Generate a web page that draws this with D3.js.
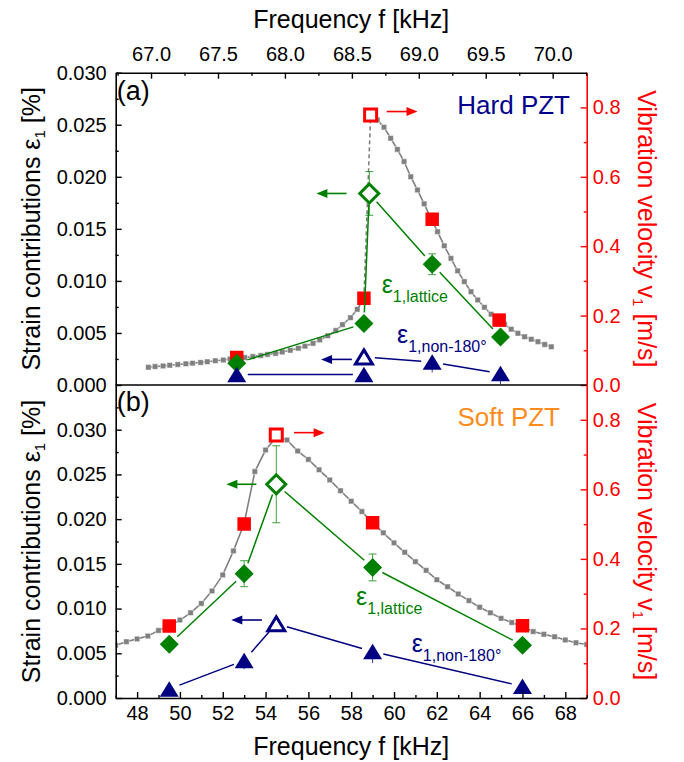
<!DOCTYPE html>
<html>
<head>
<meta charset="utf-8">
<script src="https://cdn.jsdelivr.net/npm/d3@7"></script>
<style>
body { margin: 0; background: #fff; }
svg text { font-family: "Liberation Sans", Arial, sans-serif; }
</style>
</head>
<body>
<script>
//---- data ----

// (a) Hard PZT - velocity sweep (grey), below and above the jump
var hardSweepLowF = [66.98, 67.03, 67.09, 67.14, 67.20, 67.26, 67.31, 67.37, 67.42, 67.48, 67.54, 67.59, 67.65, 67.70, 67.76,
	67.82, 67.87, 67.93, 67.98, 68.04, 68.10, 68.15, 68.21, 68.26, 68.32, 68.38, 68.43, 68.49, 68.54];
var hardSweepLowV = [0.051, 0.053, 0.055, 0.057, 0.059, 0.061, 0.063, 0.065, 0.067, 0.070, 0.072, 0.075, 0.077, 0.079, 0.082,
	0.085, 0.088, 0.091, 0.095, 0.100, 0.106, 0.112, 0.120, 0.130, 0.142, 0.157, 0.174, 0.194, 0.218];
var hardSweepHighF = [68.69, 68.74, 68.79, 68.84, 68.89, 68.94, 68.99, 69.04, 69.09, 69.14, 69.19, 69.24, 69.29, 69.34,
	69.39, 69.44, 69.49, 69.54, 69.59, 69.64, 69.69, 69.74, 69.79, 69.84, 69.89, 69.94, 69.99];
var hardSweepHighV = [0.764, 0.743, 0.711, 0.679, 0.644, 0.600, 0.562, 0.522, 0.481, 0.442, 0.401, 0.365, 0.329, 0.298,
	0.269, 0.245, 0.224, 0.204, 0.187, 0.175, 0.161, 0.149, 0.139, 0.132, 0.125, 0.117, 0.110];

// (a) diffraction points
var hardVelF = [67.64, 68.59, 69.10, 69.60];
var hardVel = [0.079, 0.250, 0.4775, 0.187];
var hardVelOpenF = 68.64, hardVelOpen = 0.778;

var hardLatticeF = [67.64, 68.59, 68.63, 69.10, 69.61];
var hardLattice = [0.0021, 0.0059, 0.0184, 0.0116, 0.0046];
var hardLatticeErr = [0, 0, 0.0021, 0.0010, 0];
var hardLatticeOpen = 2;

var hardDomainF = [67.64, 68.59, 68.59, 69.10, 69.61];
var hardDomain = [0.0010, 0.0010, 0.0027, 0.0022, 0.0011];
var hardDomainErr = [0.0005, 0.0005, 0, 0.0010, 0.0010];
var hardDomainOpen = 2;

// (b) Soft PZT - velocity sweep (grey)
var softSweepF = [47.0, 47.5, 48.0, 48.5, 49.0, 49.5, 50.0, 50.5, 51.0, 51.5, 52.0, 52.5, 53.0, 53.5, 54.0, 54.5, 55.0,
	55.5, 56.0, 56.5, 57.0, 57.5, 58.0, 58.5, 59.0, 59.5, 60.0, 60.5, 61.0, 61.5, 62.0, 62.5, 63.0, 63.5, 64.0, 64.5,
	65.0, 65.5, 66.0, 66.5, 67.0, 67.5, 68.0, 68.5, 69.0];
var softSweepV = [0.152, 0.162, 0.170, 0.178, 0.194, 0.207, 0.224, 0.245, 0.272, 0.308, 0.354, 0.423, 0.502, 0.651, 0.713,
	0.750, 0.742, 0.710, 0.686, 0.656, 0.627, 0.596, 0.566, 0.536, 0.504, 0.475, 0.446, 0.419, 0.392, 0.367, 0.340,
	0.320, 0.299, 0.280, 0.261, 0.245, 0.229, 0.217, 0.205, 0.191, 0.183, 0.176, 0.167, 0.159, 0.154];

var softVelF = [49.5, 53.0, 59.0, 66.0];
var softVel = [0.207, 0.500, 0.504, 0.208];
var softVelOpenF = 54.5, softVelOpen = 0.756;

var softLatticeF = [49.5, 53.0, 54.5, 59.0, 66.0];
var softLattice = [0.0060, 0.0139, 0.0239, 0.0146, 0.0059];
var softLatticeErr = [0, 0.00145, 0.0043, 0.0015, 0];
var softLatticeOpen = 2;

var softDomainF = [49.5, 53.0, 54.5, 59.0, 66.0];
var softDomain = [0.0010, 0.0042, 0.0083, 0.0052, 0.0013];
var softDomainErr = [0, 0.0010, 0, 0.0013, 0];
var softDomainOpen = 2;

// ticks
var strainTicks = [0, 0.005, 0.010, 0.015, 0.020, 0.025, 0.030];
var strainMinor = [0.0025, 0.0075, 0.0125, 0.0175, 0.0225, 0.0275, 0.0325];
var velTicks = [0, 0.2, 0.4, 0.6, 0.8];
var velMinor = [0.1, 0.3, 0.5, 0.7];
var hardFreqTicks = [67.0, 67.5, 68.0, 68.5, 69.0, 69.5, 70.0];
var hardFreqMinor = [66.75, 67.25, 67.75, 68.25, 68.75, 69.25, 69.75, 70.25];
var softFreqTicks = [48, 50, 52, 54, 56, 58, 60, 62, 64, 66, 68];
var softFreqMinor = [47, 49, 51, 53, 55, 57, 59, 61, 63, 65, 67, 69];

//---- layout ----
var W = 684, H = 762;
var plotLeft = 115.7, plotRight = 586.7;
var RED = "#ff0000", GREEN = "#008000", NAVY = "#000080", GREY = "#808080";

var svg = d3.select("body").append("svg")
	.attr("width", W)
	.attr("height", H);

var defs = svg.append("defs");

//line split in segments with a gap around each symbol
function gappedPath(pts, gap) {
	var d = "";
	for (var i = 0; i < pts.length - 1; i++) {
		var a = pts[i], b = pts[i + 1];
		var dx = b[0] - a[0], dy = b[1] - a[1];
		var len = Math.sqrt(dx * dx + dy * dy);
		if (len <= 2 * gap) continue;
		var ux = dx / len, uy = dy / len;
		d += "M" + (a[0] + ux * gap) + "," + (a[1] + uy * gap) + "L" + (b[0] - ux * gap) + "," + (b[1] - uy * gap);
	}
	return d;
}

function diamondPath(r) {
	return "M0," + (-r) + "L" + r + ",0L0," + r + "L" + (-r) + ",0Z";
}
function trianglePath(w, h) {
	return "M0," + (-h / 2) + "L" + (w / 2) + "," + (h / 2) + "L" + (-w / 2) + "," + (h / 2) + "Z";
}
function squarePath(s) {
	var h = s / 2;
	return "M" + (-h) + "," + (-h) + "H" + h + "V" + h + "H" + (-h) + "Z";
}

function drawArrow(g, x1, x2, y, color) {
	var dir = x2 > x1 ? 1 : -1;
	g.append("line")
		.attr("x1", x1).attr("y1", y)
		.attr("x2", x2 - dir * 8).attr("y2", y)
		.style("stroke", color)
		.style("stroke-width", 1.6);
	g.append("path")
		.attr("d", "M" + x2 + "," + y + "L" + (x2 - dir * 11) + "," + (y - 4.5) + "L" + (x2 - dir * 11) + "," + (y + 4.5) + "Z")
		.style("fill", color);
}

function subLabel(g, x, y, sub, color) {
	var t = g.append("text")
		.attr("x", x).attr("y", y)
		.style("fill", color);
	t.append("tspan").style("font-size", "25px").text("ε");
	t.append("tspan").style("font-size", "16px").attr("dy", 9).text(sub);
}

function drawPanel(p) {
	var x = d3.scaleLinear().domain(p.xDomain).range([plotLeft, plotRight]);
	var yL = d3.scaleLinear().domain(p.strainDomain).range([p.bottom, p.top]);
	var yR = d3.scaleLinear().domain([0, 0.9]).range([p.bottom, p.top]);

	var clipId = "clip_" + p.id;
	defs.append("clipPath").attr("id", clipId)
		.append("rect")
		.attr("x", plotLeft).attr("y", p.top)
		.attr("width", plotRight - plotLeft).attr("height", p.bottom - p.top);

	var g = svg.append("g").attr("clip-path", "url(#" + clipId + ")");

	//--grey velocity sweep
	p.sweeps.forEach(function (s) {
		var pts = s.f.map(function (f, i) { return [x(f), yR(s.v[i])]; });
		g.append("path")
			.attr("d", d3.line()(pts))
			.style("fill", "none")
			.style("stroke", GREY)
			.style("stroke-width", 1.6);
		g.selectAll(null).data(pts).enter().append("path")
			.attr("d", squarePath(5.5))
			.attr("transform", function (d) { return "translate(" + d[0] + "," + d[1] + ")"; })
			.style("fill", GREY)
			.style("stroke", "#fff")
			.style("stroke-width", 0.5);
	});
	p.sweepLinks.forEach(function (l) {
		g.append("line")
			.attr("x1", x(l[0])).attr("y1", yR(l[1]))
			.attr("x2", x(l[2])).attr("y2", yR(l[3]))
			.style("stroke", GREY)
			.style("stroke-width", 1.6)
			.style("stroke-dasharray", l[4] ? "4,3" : null);
	});

	//--red velocity points
	g.selectAll(null).data(p.velF).enter().append("path")
		.attr("d", squarePath(13.5))
		.attr("transform", function (d, i) { return "translate(" + x(d) + "," + yR(p.vel[i]) + ")"; })
		.style("fill", RED);
	g.append("path")
		.attr("d", squarePath(12))
		.attr("transform", "translate(" + x(p.velOpenF) + "," + yR(p.velOpen) + ")")
		.style("fill", "#fff")
		.style("stroke", RED)
		.style("stroke-width", 3);

	//--strain series: lattice (green) and non-180 domain (navy)
	p.strain.forEach(function (s) {
		var pts = s.f.map(function (f, i) { return [x(f), yL(s.val[i])]; });
		g.append("path")
			.attr("d", gappedPath(pts, 11))
			.style("fill", "none")
			.style("stroke", s.color)
			.style("stroke-width", 1.5);
		// error bars (triangles only show the lower half, no caps)
		s.err.forEach(function (e, i) {
			if (!e) return;
			var cx = pts[i][0];
			var eb = g.append("g").style("stroke", s.color).style("stroke-width", 1).style("opacity", 0.75);
			if (s.shape === "triangle") {
				eb.append("line").attr("x1", cx).attr("x2", cx).attr("y1", yL(s.val[i] - e)).attr("y2", yL(s.val[i]));
				return;
			}
			eb.append("line").attr("x1", cx).attr("x2", cx).attr("y1", yL(s.val[i] - e)).attr("y2", yL(s.val[i] + e));
			eb.append("line").attr("x1", cx - 4).attr("x2", cx + 4).attr("y1", yL(s.val[i] - e)).attr("y2", yL(s.val[i] - e));
			eb.append("line").attr("x1", cx - 4).attr("x2", cx + 4).attr("y1", yL(s.val[i] + e)).attr("y2", yL(s.val[i] + e));
		});
		g.selectAll(null).data(pts).enter().append("path")
			.attr("d", function (d, i) {
				if (s.shape === "diamond") return diamondPath(9.5);
				return i === s.open ? trianglePath(17, 14) : trianglePath(19, 15.5);
			})
			.attr("transform", function (d) { return "translate(" + d[0] + "," + d[1] + ")"; })
			.style("fill", function (d, i) { return i === s.open ? "#fff" : s.color; })
			.style("stroke", function (d, i) { return i === s.open ? s.color : "none"; })
			.style("stroke-width", 3)
			.style("stroke-linejoin", "miter");
	});

	//--arrows
	var ga = svg.append("g");
	drawArrow(ga, x(p.arrowVel[0]), x(p.arrowVel[1]), yR(p.arrowVel[2]), RED);
	drawArrow(ga, x(p.arrowLat[0]), x(p.arrowLat[1]), yL(p.arrowLat[2]), GREEN);
	drawArrow(ga, x(p.arrowDom[0]), x(p.arrowDom[1]), yL(p.arrowDom[2]), NAVY);

	//--labels
	subLabel(svg, p.latLabel[0], p.latLabel[1], "1,lattice", GREEN);
	subLabel(svg, p.domLabel[0], p.domLabel[1], "1,non-180°", NAVY);
	svg.append("text")
		.attr("x", p.nameX).attr("y", p.nameY)
		.attr("text-anchor", "end")
		.style("font-size", "26px")
		.style("fill", p.nameColor)
		.text(p.name);
	svg.append("text")
		.attr("x", plotLeft + 1).attr("y", p.top + p.tagDy)
		.style("font-size", "27px")
		.text(p.tag);

	//--left axis
	var axL = svg.append("g").attr("class", "axis").attr("transform", "translate(" + plotLeft + ",0)");
	axL.call(d3.axisLeft(yL).tickValues(strainTicks).tickFormat(d3.format(".3f"))
		.tickSize(-6).tickSizeOuter(0).tickPadding(9));
	axL.append("g").call(d3.axisLeft(yL).tickValues(strainMinor.filter(function (v) { return v < p.strainDomain[1]; }))
		.tickFormat("").tickSize(-3).tickSizeOuter(0))
		.select(".domain").remove();

	//--right axis (red)
	var axR = svg.append("g").attr("class", "axis axis-red").attr("transform", "translate(" + plotRight + ",0)");
	axR.call(d3.axisRight(yR).tickValues(velTicks).tickFormat(d3.format(".1f"))
		.tickSize(-6).tickSizeOuter(0).tickPadding(6));
	axR.append("g").call(d3.axisRight(yR).tickValues(velMinor).tickFormat("").tickSize(-3).tickSizeOuter(0))
		.select(".domain").remove();

	//--frequency axis
	var axX;
	if (p.xOnTop) {
		axX = svg.append("g").attr("class", "axis").attr("transform", "translate(0," + p.top + ")");
		axX.call(d3.axisTop(x).tickValues(p.xTicks).tickFormat(d3.format(".1f"))
			.tickSize(-6).tickSizeOuter(0).tickPadding(12));
		axX.append("g").call(d3.axisTop(x).tickValues(p.xMinor).tickFormat("").tickSize(-3).tickSizeOuter(0))
			.select(".domain").remove();
	} else {
		axX = svg.append("g").attr("class", "axis").attr("transform", "translate(0," + p.bottom + ")");
		axX.call(d3.axisBottom(x).tickValues(p.xTicks).tickFormat(d3.format("d"))
			.tickSize(-6).tickSizeOuter(0).tickPadding(8));
		axX.append("g").call(d3.axisBottom(x).tickValues(p.xMinor).tickFormat("").tickSize(-3).tickSizeOuter(0))
			.select(".domain").remove();
	}

	//--axis titles
	var midY = (p.top + p.bottom) / 2;
	var tl = svg.append("text")
		.attr("transform", "translate(40," + midY + ") rotate(-90)")
		.attr("text-anchor", "middle")
		.style("font-size", "25px");
	tl.append("tspan").text("Strain contributions ε");
	tl.append("tspan").style("font-size", "15px").attr("dy", 5).text("1");
	tl.append("tspan").attr("dy", -5).text(" [%]");

	var tr = svg.append("text")
		.attr("transform", "translate(638," + midY + ") rotate(90)")
		.attr("text-anchor", "middle")
		.style("font-size", "25px")
		.style("fill", RED);
	tr.append("tspan").text("Vibration velocity v");
	tr.append("tspan").style("font-size", "15px").attr("dy", 5).text("1");
	tr.append("tspan").attr("dy", -5).text(" [m/s]");
}

var panels = [
	{
		id: "a", top: 72.7, bottom: 385, xOnTop: true,
		xDomain: [66.736, 70.254], strainDomain: [0, 0.030],
		xTicks: hardFreqTicks, xMinor: hardFreqMinor,
		sweeps: [{ f: hardSweepLowF, v: hardSweepLowV }, { f: hardSweepHighF, v: hardSweepHighV }],
		sweepLinks: [
			[hardSweepLowF[hardSweepLowF.length - 1], hardSweepLowV[hardSweepLowV.length - 1], hardVelF[1], hardVel[1], false],
			[hardVelF[1], hardVel[1], hardVelOpenF, hardVelOpen, true],
			[hardVelOpenF, hardVelOpen, hardSweepHighF[0], hardSweepHighV[0], false]
		],
		velF: hardVelF, vel: hardVel, velOpenF: hardVelOpenF, velOpen: hardVelOpen,
		strain: [
			{ f: hardLatticeF, val: hardLattice, err: hardLatticeErr, open: hardLatticeOpen, color: GREEN, shape: "diamond" },
			{ f: hardDomainF, val: hardDomain, err: hardDomainErr, open: hardDomainOpen, color: NAVY, shape: "triangle" }
		],
		arrowVel: [68.76, 68.99, 0.788], arrowLat: [68.46, 68.235, 0.0184], arrowDom: [68.50, 68.27, 0.00246],
		latLabel: [381.7, 293.3], domLabel: [397, 342.7],
		name: "Hard PZT", nameColor: "#00008b", nameX: 570, nameY: 114,
		tag: "(a)", tagDy: 27
	},
	{
		id: "b", top: 385, bottom: 698, xOnTop: false,
		xDomain: [47, 69], strainDomain: [0, 0.035],
		xTicks: softFreqTicks, xMinor: softFreqMinor,
		sweeps: [{ f: softSweepF, v: softSweepV }],
		sweepLinks: [],
		velF: softVelF, vel: softVel, velOpenF: softVelOpenF, velOpen: softVelOpen,
		strain: [
			{ f: softLatticeF, val: softLattice, err: softLatticeErr, open: softLatticeOpen, color: GREEN, shape: "diamond" },
			{ f: softDomainF, val: softDomain, err: softDomainErr, open: softDomainOpen, color: NAVY, shape: "triangle" }
		],
		arrowVel: [55.33, 56.76, 0.763], arrowLat: [53.57, 52.17, 0.0239], arrowDom: [53.83, 52.40, 0.00872],
		latLabel: [356, 605], domLabel: [411.7, 651.7],
		name: "Soft PZT", nameColor: "#ff8c1a", nameX: 560, nameY: 426,
		tag: "(b)", tagDy: 26
	}
];

panels.forEach(drawPanel);

//shared axis styling
svg.selectAll(".axis .domain").style("stroke", "#000").style("stroke-width", 1.6);
svg.selectAll(".axis .tick line").style("stroke", "#000").style("stroke-width", 1.4);
svg.selectAll(".axis text").style("font-size", "20px").style("fill", "#000")
	.style("font-family", "'Liberation Sans', Arial, sans-serif");
svg.selectAll(".axis-red .domain, .axis-red .tick line").style("stroke", RED);
svg.selectAll(".axis-red text").style("fill", RED);

//frequency titles
svg.append("text")
	.attr("x", (plotLeft + plotRight) / 2).attr("y", 28)
	.attr("text-anchor", "middle")
	.style("font-size", "25px")
	.text("Frequency f [kHz]");
svg.append("text")
	.attr("x", (plotLeft + plotRight) / 2).attr("y", 755)
	.attr("text-anchor", "middle")
	.style("font-size", "25px")
	.text("Frequency f [kHz]");

//line between panels
svg.append("line")
	.attr("x1", plotLeft).attr("x2", plotRight)
	.attr("y1", 385).attr("y2", 385)
	.style("stroke", "#000")
	.style("stroke-width", 1.6);
</script>
</body>
</html>
